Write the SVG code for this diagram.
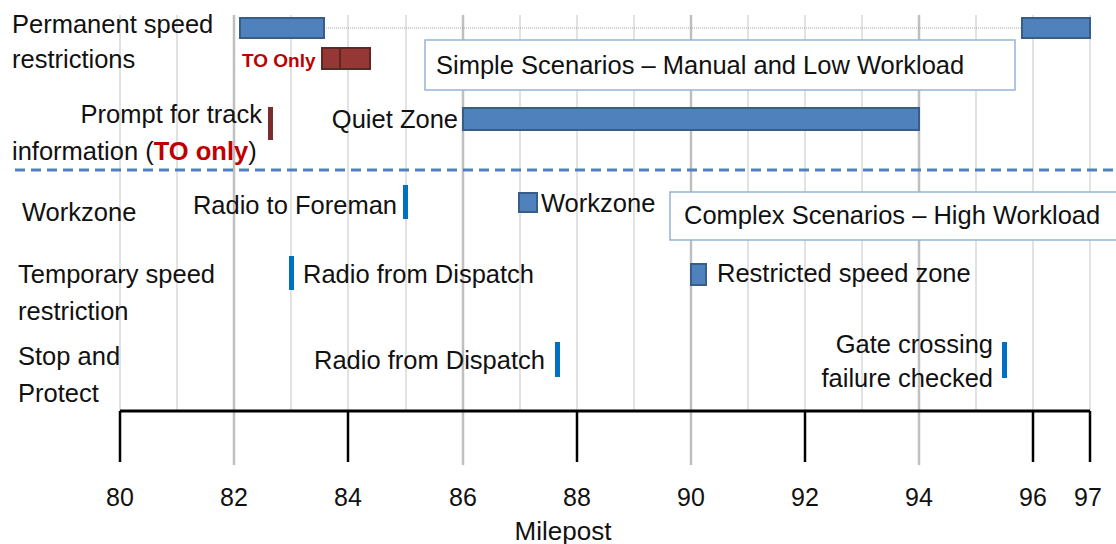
<svg xmlns="http://www.w3.org/2000/svg" width="1116" height="544" viewBox="0 0 1116 544">
<style>
text{font-family:"Liberation Sans",Arial,sans-serif;font-size:25.5px;fill:#111}
.r{text-anchor:end}
.red{fill:#C00000;font-weight:bold}
.ax{font-size:25px;text-anchor:middle}
.g{stroke:#D9D9D9;stroke-width:1.5}
.gd{stroke:#BFBFBF;stroke-width:2.5}
.bar{fill:#4F81BD;stroke:#385D8A;stroke-width:2}
.rbar{fill:#953735;stroke:#632523;stroke-width:2}
.tick{fill:#0070C0}
.box{fill:#fff;stroke:#95B3D7;stroke-width:1.5}
</style>
<rect width="1116" height="544" fill="#fff"/>
<g id="grid">
<line class="g" x1="120" y1="15" x2="120" y2="411"/>
<line class="g" x1="177" y1="15" x2="177" y2="411"/>
<line class="g" x1="291" y1="15" x2="291" y2="411"/>
<line class="g" x1="348" y1="15" x2="348" y2="411"/>
<line class="g" x1="406" y1="15" x2="406" y2="411"/>
<line class="g" x1="520" y1="15" x2="520" y2="411"/>
<line class="g" x1="577" y1="15" x2="577" y2="411"/>
<line class="g" x1="634" y1="15" x2="634" y2="411"/>
<line class="g" x1="748" y1="15" x2="748" y2="411"/>
<line class="g" x1="805" y1="15" x2="805" y2="411"/>
<line class="g" x1="862" y1="15" x2="862" y2="411"/>
<line class="g" x1="976" y1="15" x2="976" y2="411"/>
<line class="g" x1="1033" y1="15" x2="1033" y2="411"/>
<line class="g" x1="1090" y1="15" x2="1090" y2="411"/>
<line class="gd" x1="234" y1="15" x2="234" y2="465"/>
<line class="gd" x1="463" y1="15" x2="463" y2="465"/>
<line class="gd" x1="691" y1="15" x2="691" y2="465"/>
<line class="gd" x1="919" y1="15" x2="919" y2="465"/>
<line x1="324" y1="28" x2="1022" y2="28" stroke="#A6A6A6" stroke-width="1" stroke-dasharray="1 1"/>
</g>
<g id="divider">
<line x1="15" y1="170" x2="1116" y2="170" stroke="#4F81BD" stroke-width="3" stroke-dasharray="10 6"/>
</g>
<g id="simple-box">
<rect class="box" x="425" y="40" width="590" height="50"/>
<text x="436" y="74">Simple Scenarios – Manual and Low Workload</text>
</g>
<g id="complex-box">
<rect class="box" x="670" y="192" width="450" height="48"/>
<text x="684" y="224">Complex Scenarios – High Workload</text>
</g>
<g id="permanent">
<text x="12" y="33">Permanent speed</text>
<text x="12" y="68">restrictions</text>
<rect class="bar" x="240" y="18" width="84" height="20"/>
<rect class="bar" x="1022" y="18" width="68" height="20"/>
<text class="red" x="242" y="67" style="font-size:19px">TO Only</text>
<rect class="rbar" x="322" y="48" width="48" height="21"/>
<line x1="340" y1="48" x2="340" y2="69" stroke="#632523" stroke-width="2"/>
</g>
<g id="prompt">
<text class="r" x="262" y="123">Prompt for track</text>
<text x="12" y="160">information (<tspan class="red">TO only</tspan>)</text>
<rect x="268" y="107" width="5" height="33" fill="#7B2C2C"/>
</g>
<g id="quiet">
<text class="r" x="458" y="128">Quiet Zone</text>
<rect class="bar" x="463" y="108" width="456" height="22"/>
</g>
<g id="workzone">
<text x="22" y="221">Workzone</text>
<text class="r" x="397" y="214">Radio to Foreman</text>
<rect class="tick" x="403" y="185" width="5" height="34"/>
<rect class="bar" x="519" y="193" width="18" height="19"/>
<text x="541" y="212">Workzone</text>
</g>
<g id="temporary">
<text x="18" y="283">Temporary speed</text>
<text x="18" y="320">restriction</text>
<rect class="tick" x="289" y="256" width="5" height="34"/>
<text x="303" y="283">Radio from Dispatch</text>
<rect class="bar" x="691" y="264" width="15" height="21"/>
<text x="717" y="282">Restricted speed zone</text>
</g>
<g id="stop">
<text x="18" y="365">Stop and</text>
<text x="18" y="402">Protect</text>
<text class="r" x="545" y="369">Radio from Dispatch</text>
<rect class="tick" x="555" y="342" width="5" height="35"/>
<text class="r" x="993" y="353">Gate crossing</text>
<text class="r" x="993" y="387">failure checked</text>
<rect class="tick" x="1002" y="342" width="5" height="36"/>
</g>
<g id="axis">
<line x1="120" y1="411" x2="1090" y2="411" stroke="#000" stroke-width="3"/>
<g stroke="#000" stroke-width="2.5">
<line x1="120" y1="411" x2="120" y2="462"/>
<line x1="348" y1="411" x2="348" y2="462"/>
<line x1="577" y1="411" x2="577" y2="462"/>
<line x1="805" y1="411" x2="805" y2="462"/>
<line x1="1033" y1="411" x2="1033" y2="462"/>
<line x1="1090" y1="411" x2="1090" y2="462"/>
</g>
<text class="ax" x="120" y="506">80</text>
<text class="ax" x="234" y="506">82</text>
<text class="ax" x="348" y="506">84</text>
<text class="ax" x="463" y="506">86</text>
<text class="ax" x="577" y="506">88</text>
<text class="ax" x="691" y="506">90</text>
<text class="ax" x="805" y="506">92</text>
<text class="ax" x="919" y="506">94</text>
<text class="ax" x="1033" y="506">96</text>
<text class="ax" x="1088" y="506">97</text>
<text class="ax" x="563" y="540" style="font-size:26px">Milepost</text>
</g>
</svg>
